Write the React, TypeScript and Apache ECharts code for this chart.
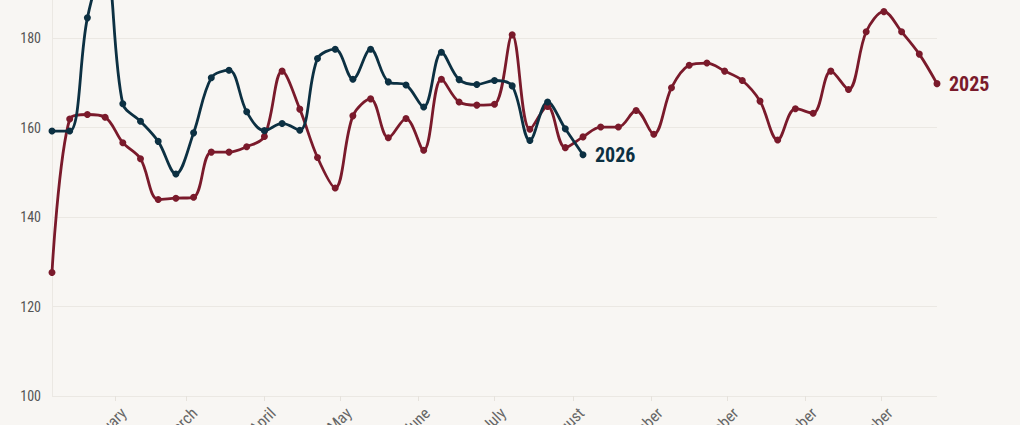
import React, { useEffect, useRef } from "react";
import * as echarts from "echarts";

const weekDates: string[] = [
  "2025-01-07", "2025-01-14", "2025-01-21", "2025-01-28",
  "2025-02-04", "2025-02-11", "2025-02-18", "2025-02-25",
  "2025-03-04", "2025-03-11", "2025-03-18", "2025-03-25",
  "2025-04-01", "2025-04-08", "2025-04-15", "2025-04-22", "2025-04-29",
  "2025-05-06", "2025-05-13", "2025-05-20", "2025-05-27",
  "2025-06-03", "2025-06-10", "2025-06-17", "2025-06-24",
  "2025-07-01", "2025-07-08", "2025-07-15", "2025-07-22", "2025-07-29",
  "2025-08-05", "2025-08-12", "2025-08-19", "2025-08-26",
  "2025-09-02", "2025-09-09", "2025-09-16", "2025-09-23", "2025-09-30",
  "2025-10-07", "2025-10-14", "2025-10-21", "2025-10-28",
  "2025-11-04", "2025-11-11", "2025-11-18", "2025-11-25",
  "2025-12-02", "2025-12-09", "2025-12-16", "2025-12-23",
];

const values2025: number[] = [
  127.6, 161.9, 162.9, 162.3, 156.6, 153.0, 143.9, 144.2, 144.4, 154.5,
  154.5, 155.7, 158.0, 172.6, 164.1, 153.3, 146.5, 162.6, 166.4, 157.7,
  162.0, 154.9, 170.8, 165.7, 165.0, 165.2, 180.7, 159.6, 164.7, 155.5,
  157.9, 160.1, 160.1, 163.8, 158.5, 168.9, 173.9, 174.4, 172.6, 170.5,
  165.9, 157.2, 164.2, 163.2, 172.6, 168.5, 181.4, 185.9, 181.4, 176.4,
  169.8,
];

const values2026: number[] = [
  159.2, 159.2, 184.5, 197.0, 165.3, 161.4, 156.9, 149.6, 158.8, 171.1,
  172.8, 163.5, 159.3, 160.9, 159.4, 175.4, 177.5, 170.8, 177.5, 170.2,
  169.5, 164.6, 176.8, 170.7, 169.6, 170.5, 169.3, 157.1, 165.7, 159.7,
  153.9,
];

const monthNames: string[] = [
  "January", "February", "March", "April", "May", "June",
  "July", "August", "September", "October", "November", "December",
];

const seriesNames: string[] = ["2025", "2026"];

const FONT =
  "'Roboto Condensed', 'Liberation Sans Narrow', 'DejaVu Sans Condensed', Roboto, sans-serif";
const RED = "#7a1a2b";
const NAVY = "#0c3042";

function toTime(s: string): number {
  const [y, m, d] = s.split("-").map(Number);
  return new Date(y, m - 1, d).getTime();
}

export default function App() {
  const ref = useRef<HTMLDivElement>(null);

  useEffect(() => {
    document.body.style.margin = "0";
    if (!ref.current) return;
    const chart = echarts.init(ref.current, undefined, { renderer: "svg" });
    const times = weekDates.map(toTime);
    const day = 24 * 3600 * 1000;

    chart.setOption({
      animation: false,
      backgroundColor: "#f8f6f3",
      textStyle: { fontFamily: FONT },
      grid: {
        left: 52,
        right: 83,
        top: -51.5,
        bottom: 29,
        containLabel: false,
        outerBoundsMode: "none",
      },
      xAxis: {
        type: "time",
        min: times[0],
        max: times[times.length - 1],
        minInterval: 28 * day,
        maxInterval: 31 * day,
        axisLine: { show: false },
        axisTick: {
          show: true,
          length: 5,
          lineStyle: { color: "#e6e2dc", width: 1 },
        },
        splitLine: { show: false },
        axisLabel: {
          rotate: 45,
          color: "#666666",
          fontFamily: FONT,
          fontSize: 16,
          margin: 6,
          verticalAlign: "top",
          padding: [4, 0, 0, 0],
          showMinLabel: false,
          showMaxLabel: false,
          formatter: (v: number) => {
            const dt = new Date(v);
            return dt.getDate() === 1 ? monthNames[dt.getMonth()] : "";
          },
        },
      },
      yAxis: {
        type: "value",
        min: 100,
        max: 200,
        interval: 20,
        axisLine: { show: true, lineStyle: { color: "#ebe8e3", width: 1 } },
        axisTick: { show: false },
        splitLine: { show: true, lineStyle: { color: "#ebe8e3", width: 1 } },
        axisLabel: {
          color: "#555555",
          fontFamily: FONT,
          fontSize: 14,
          margin: 11,
          showMaxLabel: false,
        },
      },
      series: [
        {
          name: seriesNames[0],
          type: "line",
          data: values2025.map((v, i) => [times[i], v]),
          smooth: 0.35,
          symbol: "circle",
          symbolSize: 7,
          showAllSymbol: true,
          clip: false,
          lineStyle: { color: RED, width: 2.8 },
          itemStyle: { color: RED },
          endLabel: {
            show: true,
            formatter: seriesNames[0],
            color: RED,
            fontFamily: FONT,
            fontWeight: "bold",
            fontSize: 20,
            distance: 12,
          },
        },
        {
          name: seriesNames[1],
          type: "line",
          data: values2026.map((v, i) => [times[i], v]),
          smooth: 0.35,
          symbol: "circle",
          symbolSize: 7,
          showAllSymbol: true,
          clip: false,
          lineStyle: { color: NAVY, width: 2.8 },
          itemStyle: { color: NAVY },
          endLabel: {
            show: true,
            formatter: seriesNames[1],
            color: NAVY,
            fontFamily: FONT,
            fontWeight: "bold",
            fontSize: 20,
            distance: 12,
          },
        },
      ],
    });

    return () => chart.dispose();
  }, []);

  return (
    <div
      ref={ref}
      style={{ position: "absolute", left: 0, top: 0, width: 1020, height: 425 }}
    />
  );
}
